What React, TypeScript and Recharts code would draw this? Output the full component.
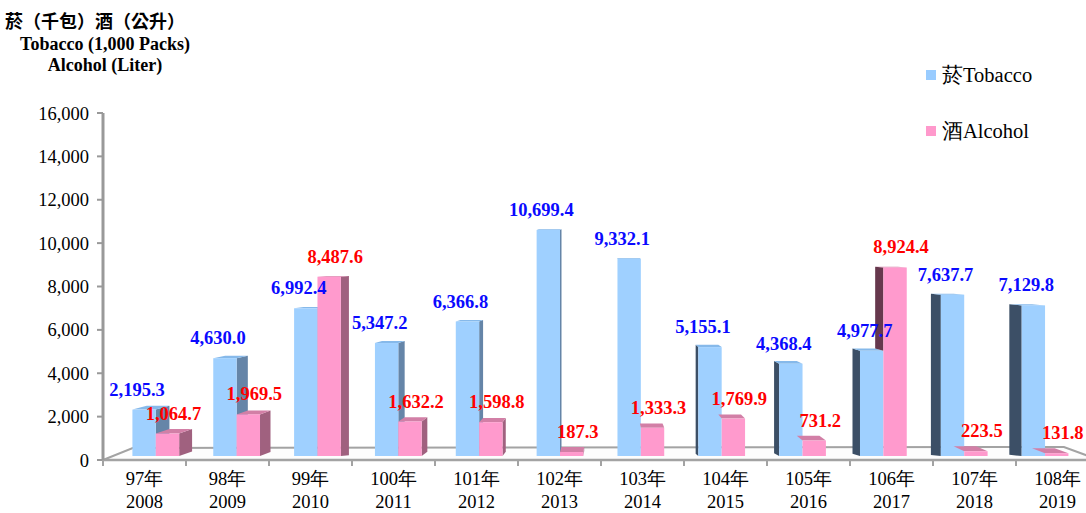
import { BarChart, Bar, XAxis, YAxis, LabelList } from "recharts"

const rocYears = ["97年", "98年", "99年", "100年", "101年", "102年", "103年", "104年", "105年", "106年", "107年", "108年"]
const adYears = ["2008", "2009", "2010", "2011", "2012", "2013", "2014", "2015", "2016", "2017", "2018", "2019"]
const tobacco = [2195.3, 4630.0, 6992.4, 5347.2, 6366.8, 10699.4, 9332.1, 5155.1, 4368.4, 4977.7, 7637.7, 7129.8]
const alcohol = [1064.7, 1969.5, 8487.6, 1632.2, 1598.8, 187.3, 1333.3, 1769.9, 731.2, 8924.4, 223.5, 131.8]
const yTicks = [0, 2000, 4000, 6000, 8000, 10000, 12000, 14000, 16000]

const data = rocYears.map((roc, i) => ({
  roc,
  ad: adYears[i],
  tobacco: tobacco[i],
  alcohol: alcohol[i],
}))

const SERIF = "Liberation Serif"
const GRAY = "#a3a3a3"

// plot box: x 103..1099, y 113..460
const CHART_W = 1110
const CHART_H = 513
const PLOT_L = 103
const PLOT_R = 1099
const PLOT_T = 113
const PLOT_B = 460
const BAND = (PLOT_R - PLOT_L) / rocYears.length

// fake perspective, bars stand a bit behind the front edge of the floor
const VX = 560
const VY = 306
const S = 0.974
const SIDE_VX = 610
const SIDE_K = 0.03
const px = (x: number) => VX + (x - VX) * S
const py = (y: number) => VY + (y - VY) * S
const topDepth = (y: number) => Math.max(0.8, (y - 260) * 0.026)

const FACES = {
  tobacco: { front: "#9fd0ff", top: "#86b9ea", right: "#6585a8", left: "#3c4f66" },
  alcohol: { front: "#ff9acd", top: "#d27fa6", right: "#a0617f", left: "#66384d" },
}

const pts = (a: number[][]) => a.map((p) => p.join(",")).join(" ")

function Box3D(props: any) {
  const { x, y, width, height, kind, payload, value } = props
  if (!width || height == null) return null
  const c = FACES[kind as "tobacco" | "alcohol"]
  const x1 = px(x)
  const x2 = px(x + width)
  const top = py(y)
  const bot = py(y + height)
  const dxR = (SIDE_VX - x2) * SIDE_K
  const dxL = (SIDE_VX - x1) * SIDE_K
  const dy = topDepth(top)

  let side = null
  if (dxR > 0.5) {
    side = (
      <polygon
        points={pts([[x2, top], [x2 + dxR, top - dy], [x2 + dxR, bot - dy], [x2, bot]])}
        fill={c.right}
      />
    )
  } else if (dxL < -0.5) {
    let cut = bot
    let cutBack = bot - dy
    if (kind === "alcohol" && value > 0) {
      // left face of the pink bar is hidden behind the blue one
      const ppu = height / value
      const tTop = py(y + height - payload.tobacco * ppu)
      cut = tTop
      cutBack = tTop - topDepth(tTop)
    }
    if (cut > top) {
      side = (
        <polygon
          points={pts([[x1, top], [x1 + dxL, top - dy], [x1 + dxL, Math.max(top - dy, cutBack)], [x1, cut]])}
          fill={c.left}
        />
      )
    }
  }

  return (
    <g>
      {side}
      <polygon points={pts([[x1, top], [x2, top], [x2 + dxR, top - dy], [x1 + dxL, top - dy]])} fill={c.top} />
      <rect x={x1} y={top} width={x2 - x1} height={Math.max(0, bot - top)} fill={c.front} />
    </g>
  )
}

const fmt = (v: number) =>
  v.toLocaleString("en-US", { minimumFractionDigits: 1, maximumFractionDigits: 1 })

function valueLabel(color: string, shift: number) {
  return (props: any) => {
    const { x, y, width, value } = props
    const cx = (px(x) + px(x + width)) / 2 + shift
    const cy = py(y) - 20
    return (
      <text x={cx} y={cy + 6} textAnchor="middle" fill={color} style={{ fontFamily: SERIF, fontWeight: 700, fontSize: 18.5 }}>
        {fmt(value)}
      </text>
    )
  }
}

function YearTick(props: any) {
  const { x, y, payload } = props
  const i = payload.index
  return (
    <g>
      <line x1={x - BAND / 2} x2={x - BAND / 2} y1={y} y2={y + 6} stroke={GRAY} strokeWidth={2} />
      <text x={x} y={y + 25} textAnchor="middle" fill="#000" style={{ fontFamily: SERIF, fontSize: 18.5 }}>
        {payload.value}
      </text>
      <text x={x} y={y + 48} textAnchor="middle" fill="#000" style={{ fontFamily: SERIF, fontSize: 18.5 }}>
        {adYears[i]}
      </text>
    </g>
  )
}

function LegendRow({ color, label, top }: { color: string; label: string; top: number }) {
  return (
    <div style={{ position: "absolute", left: 926, top, display: "flex", alignItems: "center", height: 24 }}>
      <span style={{ width: 10, height: 10, background: color, marginRight: 6 }} />
      <span style={{ fontFamily: SERIF, fontSize: 20.5, color: "#000", whiteSpace: "nowrap" }}>{label}</span>
    </div>
  )
}

export default function App() {
  const floor = [
    [PLOT_L, PLOT_B],
    [VX + (PLOT_L - VX) * 0.935, PLOT_B - 12],
    [VX + (PLOT_R - VX) * 0.935, PLOT_B - 13],
    [PLOT_R, PLOT_B],
  ]
  return (
    <div style={{ position: "fixed", left: 0, top: 0, width: 1086, height: 513, overflow: "hidden", background: "#fff" }}>
      <svg width={CHART_W} height={CHART_H} style={{ position: "absolute", left: 0, top: 0 }}>
        <polygon points={pts(floor)} fill="#fdfdfd" stroke={GRAY} strokeWidth={2} />
      </svg>

      <div style={{ position: "absolute", left: 0, top: 0 }}>
        <BarChart
          width={CHART_W}
          height={CHART_H}
          data={data}
          margin={{ top: PLOT_T, right: CHART_W - PLOT_R, bottom: 0, left: 0 }}
          barCategoryGap={18}
          barGap={0}
        >
          <XAxis
            dataKey="roc"
            interval={0}
            height={CHART_H - PLOT_B}
            tickLine={false}
            tickSize={0}
            tickMargin={0}
            axisLine={{ stroke: GRAY, strokeWidth: 2.5 }}
            tick={<YearTick />}
          />
          <YAxis
            domain={[0, 16000]}
            ticks={yTicks}
            interval={0}
            width={PLOT_L}
            tickSize={6}
            tickMargin={8}
            axisLine={{ stroke: "#999", strokeWidth: 3 }}
            tickLine={{ stroke: "#999", strokeWidth: 2 }}
            tick={{ fill: "#000", fontSize: 18.5, style: { fontFamily: SERIF } }}
            tickFormatter={(v: number) => v.toLocaleString("en-US")}
          />
          <Bar dataKey="tobacco" isAnimationActive={false} shape={(p: any) => <Box3D {...p} kind="tobacco" />}>
            <LabelList dataKey="tobacco" content={valueLabel("#0a0aff", -7)} />
          </Bar>
          <Bar dataKey="alcohol" isAnimationActive={false} shape={(p: any) => <Box3D {...p} kind="alcohol" />}>
            <LabelList dataKey="alcohol" content={valueLabel("#ff0000", 6)} />
          </Bar>
        </BarChart>
      </div>

      <div style={{ position: "absolute", left: 5, top: 8, fontFamily: '"Noto Sans CJK TC"', fontWeight: "bold", fontSize: 18, lineHeight: "24px", color: "#000", whiteSpace: "nowrap" }}>
        菸（千包）酒（公升）
      </div>
      <div style={{ position: "absolute", left: 5, width: 200, top: 34, textAlign: "center", fontFamily: SERIF, fontWeight: "bold", fontSize: 18, lineHeight: "21px", color: "#000" }}>
        <div>Tobacco (1,000 Packs)</div>
        <div>Alcohol (Liter)</div>
      </div>

      <LegendRow color="#99ccff" label="菸Tobacco" top={63} />
      <LegendRow color="#ff99cc" label="酒Alcohol" top={119} />
    </div>
  )
}
